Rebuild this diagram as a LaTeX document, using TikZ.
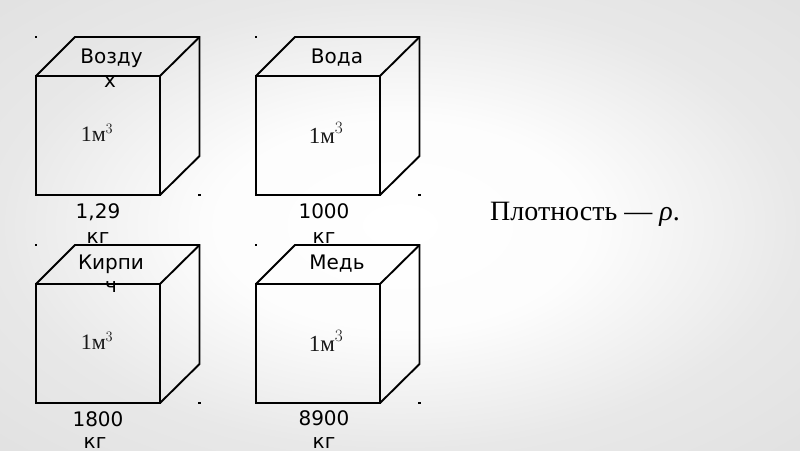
\documentclass[tikz,border=0pt]{standalone}
\usepackage{fontspec}
\setmainfont{DejaVu Sans}
\newfontfamily\serifface{Liberation Serif}
\pgfdeclareradialshading{bgglow}{\pgfpoint{0bp}{0bp}}{%
  color(0bp)=(white);
  color(12bp)=(white!99!black);
  color(25bp)=(white!91!black);
  color(50bp)=(white!85!black)}
\tikzset{
  x=1pt,y=-1pt,
  edge/.style={draw=black,line width=1.9pt,line join=miter},
  title/.style={font=\fontsize{20}{24}\selectfont,text=black,inner sep=0pt,anchor=base},
  vol/.style={font=\serifface\fontsize{#1}{20}\selectfont,text=black!90,inner sep=0pt,anchor=base},
  cornerdot/.style={fill=black,inner sep=0pt,minimum size=2.2pt,shape=rectangle},
  formula/.style={font=\serifface\fontsize{28}{32}\selectfont,text=black,inner sep=0pt,anchor=base west}
}
\newcommand{\cubeat}[2]{%
  \draw[edge] (#1,#2) rectangle (#1+124,#2+119);
  \draw[edge] (#1,#2) -- (#1+39,#2-39) -- (#1+163.5,#2-39) -- (#1+163.5,#2+80) -- (#1+124,#2+119);
  \draw[edge] (#1+124,#2) -- (#1+163.5,#2-39);
  \node[cornerdot] at (#1,#2-39) {};
  \node[cornerdot] at (#1+163.5,#2+119) {};
}
\begin{document}
\begin{tikzpicture}
\useasboundingbox (0,0) rectangle (800,450);
\path[shading=bgglow] (0,0) rectangle (800,450);
\cubeat{36}{76}
\cubeat{256}{76}
\cubeat{36}{284}
\cubeat{256}{284}
\node[title] (t1) at (111.5,63) {Возду};
\node[title] (t1b) at (110,87) {х};
\node[title] (t2) at (337,63) {Вода};
\node[title] (t3) at (111,269) {Кирпи};
\node[title] (t3b) at (111,292) {ч};
\node[title] (t4) at (337,269) {Медь};
\node[title] (m1) at (98,218) {1,29};
\node[title] (m1b) at (98,243) {кг};
\node[title] (m2) at (324,218) {1000};
\node[title] (m2b) at (324,243) {кг};
\node[title] (m3) at (98,426) {1800};
\node[title] (m3b) at (95,448) {кг};
\node[title] (m4) at (324,425) {8900};
\node[title] (m4b) at (324,448) {кг};
\node[vol=22] (v1) at (97,141) {1м$^{3}$};
\node[vol=23] (v2) at (326,143) {1м$^{3}$};
\node[vol=22] (v3) at (97,349) {1м$^{3}$};
\node[vol=23] (v4) at (326,351) {1м$^{3}$};
\node[formula] (f) at (490,220) {Плотность — \textit{ρ}.};
\end{tikzpicture}
\end{document}
